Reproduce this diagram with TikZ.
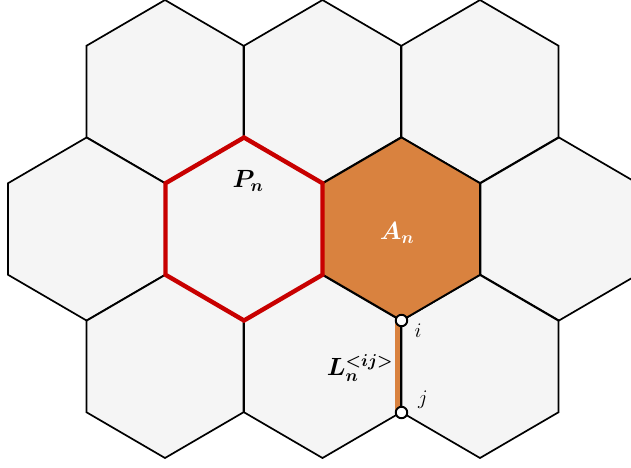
\documentclass[tikz,border=0pt]{standalone}
\usepackage{bm}
\definecolor{cellgray}{HTML}{F5F5F5}
\definecolor{annorange}{HTML}{D9823F}
\definecolor{pnred}{HTML}{C80000}
\begin{document}
\begin{tikzpicture}[x=1pt, y=-1pt,
		hexcell/.style={draw=black, line width=1.7pt, fill=cellgray},
		port/.style={circle, draw=black, line width=1.9pt, fill=white, inner sep=0pt, minimum size=11.5pt},
		lbl/.style={font=\fontsize{24}{26}\selectfont, inner sep=0pt},
		idx/.style={font=\fontsize{21}{23}\selectfont, inner sep=0pt}]
			\useasboundingbox (0,0) rectangle (631,467);
			\clip (0,0) rectangle (631,467);
			% grid cells
			\foreach \cx/\cy in {165/91.5, 322.5/91.5, 480/91.5, 86.5/229, 244/229, 559/229, 165/366.5, 322.5/366.5, 480/366.5}
				\filldraw[hexcell] (\cx,\cy) +(0,-91.5) -- +(78.5,-45.75) -- +(78.5,45.75) -- +(0,91.5) -- +(-78.5,45.75) -- +(-78.5,-45.75) -- cycle;
			\filldraw[hexcell, fill=annorange] (401.5,229) +(0,-91.5) -- +(78.5,-45.75) -- +(78.5,45.75) -- +(0,91.5) -- +(-78.5,45.75) -- +(-78.5,-45.75) -- cycle;
			\draw[pnred, line width=4.4pt] (244,229) +(0,-91.5) -- +(78.5,-45.75) -- +(78.5,45.75) -- +(0,91.5) -- +(-78.5,45.75) -- +(-78.5,-45.75) -- cycle;
			% link between i and j
			\coordinate (vi) at (401.5,320.5);
			\coordinate (vj) at (401.5,412.5);
			\draw[annorange, line width=5pt] ([xshift=-4.2pt]vi) -- ([xshift=-4.2pt]vj);
			\node[port] (i) at (vi) {};
			\node[port] (j) at (vj) {};
			\node[lbl] (pn) at (248,181) {$\bm{P_n}$};
			\node[lbl, text=white] (an) at (397,233) {$\bm{A_n}$};
			\node[lbl, font=\fontsize{26}{28}\selectfont] (ln) at (360,368) {$\bm{L_n^{<ij>}}$};
			\node[idx] (li) at (418,331) {$i$};
			\node[idx] (lj) at (423,400) {$j$};
		\end{tikzpicture}
\end{document}
